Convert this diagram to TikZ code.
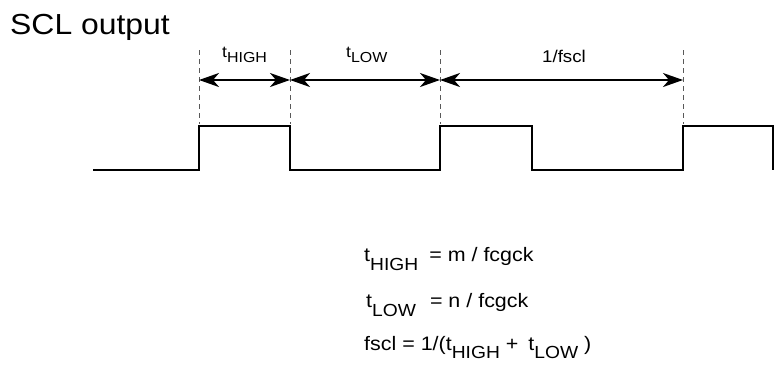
\documentclass[tikz,border=0pt]{standalone}
\usepackage{fontspec}
\setmainfont{Liberation Sans}[FakeStretch=1.1]
\usetikzlibrary{arrows.meta, positioning, calc}

% t with a lowered subscript: #1 text, #2 drop, #3 size
\newcommand{\tsub}[3]{t\raisebox{-#2}{\fontsize{#3}{#3}\selectfont #1}}

\begin{document}
\begin{tikzpicture}[x=1pt, y=-1pt, >={Stealth[length=20pt, width=14pt, inset=6pt]}]
    \tikzset{
        sig/.style={draw, line width=2.2pt, line join=miter},
        guide/.style={draw=black!65, line width=0.8pt, dash pattern=on 5pt off 4pt},
        dim/.style={draw, line width=1.8pt, <->},
        lbl/.style={anchor=base west, inner sep=0pt},
    }
    \useasboundingbox (0,0) rectangle (780,365);

    % title
    \node[lbl, font=\fontsize{29}{32}\selectfont] (title) at (10,34) {SCL output};

    % clock waveform
    \draw[sig] (93,170) -- (199,170) -- (199,126) -- (290,126) -- (290,170)
        -- (440,170) -- (440,126) -- (532,126) -- (532,170)
        -- (683,170) -- (683,126) -- (773,126) -- (773,170);

    % guide lines and dimension marks
    \foreach \x/\n in {199/a, 290/b, 440/c, 683/d} {
        \coordinate (g\n) at (\x,50);
        \coordinate (e\n) at (\x,124);
        \coordinate (m\n) at (\x,80);
        \draw[guide] (g\n) -- (e\n);
    }
    \draw[dim] (ma) -- (mb);
    \draw[dim] (mb) -- (mc);
    \draw[dim] (mc) -- (md);

    \node[lbl, font=\fontsize{16}{18}\selectfont] (lhigh) at (222,57) {\tsub{HIGH}{5pt}{14.5}};
    \node[lbl, font=\fontsize{16}{18}\selectfont] (llow) at (346,57) {\tsub{LOW}{5pt}{14.5}};
    \node[lbl, font=\fontsize{17}{19}\selectfont] (lper) at (542,62) {1/fscl};

    % formulas
    \node[lbl, font=\fontsize{19.5}{21}\selectfont] (fhigh) at (364,261)
        {\tsub{HIGH}{9pt}{17.5}\hspace{11pt}= m / fcgck};
    \node[lbl, font=\fontsize{19.5}{21}\selectfont] (flow) at (366,307)
        {\tsub{LOW}{9pt}{17.5}\hspace{14pt}= n / fcgck};
    \node[lbl, font=\fontsize{19.5}{21}\selectfont] (fscl) at (364,350)
        {fscl = 1/(\tsub{HIGH}{8pt}{17.5}\hspace{6pt}+\hspace{10pt}\tsub{LOW}{8pt}{17.5} )};
\end{tikzpicture}
\end{document}
